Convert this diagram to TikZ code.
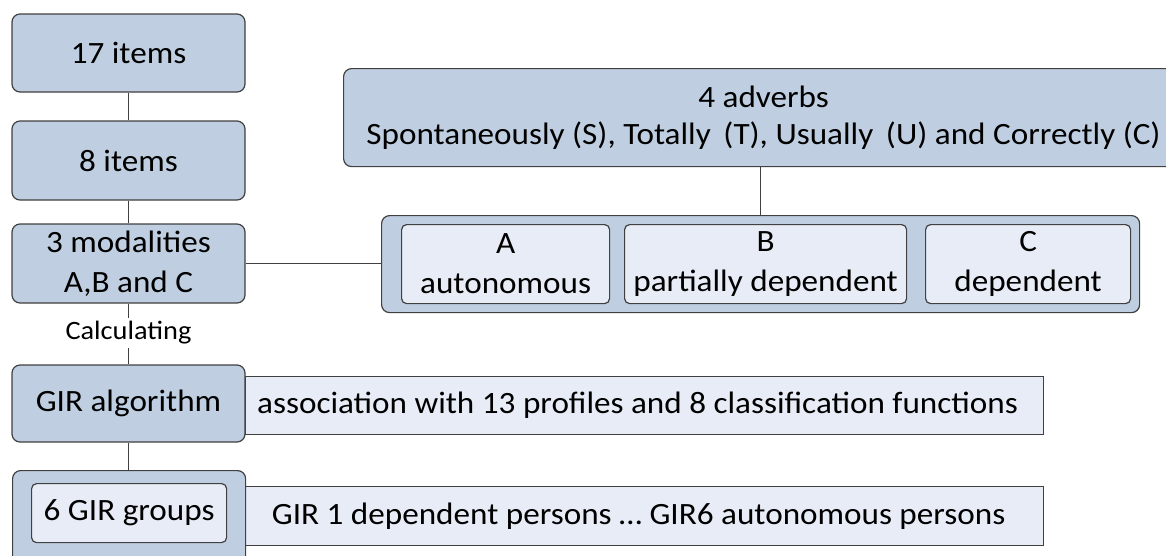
\documentclass[tikz,border=0pt]{standalone}
\usepackage{fontspec}
\setmainfont{Carlito}[FakeStretch=1.07]
\definecolor{darkfill}{HTML}{BFCFE1}
\definecolor{lightfill}{HTML}{E7ECF6}
\definecolor{edge}{HTML}{404040}
\tikzset{
  dbox/.style={draw=edge, fill=darkfill, line width=1.2pt, rounded corners=8pt, inner sep=0pt, align=center},
  lbox/.style={draw=edge, fill=lightfill, line width=1.2pt, rounded corners=5pt, inner sep=0pt, align=center},
  sbox/.style={draw=edge, fill=lightfill, line width=1.2pt, inner sep=0pt, align=center},
  conn/.style={draw=edge, line width=1pt},
  txt/.style={font=\fontsize{31}{40}\selectfont}
}
\begin{document}
\begin{tikzpicture}[x=1pt,y=-1pt]
\useasboundingbox (0,0) rectangle (1166,555);
\clip (0,0) rectangle (1166,555);
% left column
\node[dbox, txt, minimum width=233pt, minimum height=78pt] (n17) at (128.5,53) {17 items};
\node[dbox, txt, minimum width=233pt, minimum height=79pt] (n8) at (128.5,160.5) {8 items};
\node[dbox, txt, minimum width=233pt, minimum height=79pt] (mod) at (128.5,263.5) {3 modalities\\A,B and C};
\node[inner sep=3pt, font=\fontsize{26.5}{30}\selectfont] (calc) at (128.5,333) {Calculating};
% association
\node[sbox, txt, minimum width=798pt, minimum height=58pt, anchor=north west] (assoc) at (245,376) {\hspace*{-14pt}association with 13 profiles and 8 classification functions};
\node[dbox, txt, minimum width=233pt, minimum height=77pt] (gir) at (128.5,403.5) {GIR algorithm};
% GIR groups
\node[sbox, txt, minimum width=798pt, minimum height=59pt, anchor=north west] (gir1) at (245,486) {\hspace*{-12pt}GIR 1 dependent persons … GIR6 autonomous persons};
\node[dbox, minimum width=233pt, minimum height=110pt, anchor=north west] (grp) at (12,470) {};
\node[lbox, txt, minimum width=195pt, minimum height=59pt, anchor=north west] (grpin) at (31,483) {6 GIR groups};
% adverbs
\node[dbox, minimum width=840pt, minimum height=98pt, anchor=north west, font=\fontsize{31}{37}\selectfont] (adv) at (343,68) {4 adverbs\\Spontaneously (S), Totally \,(T), Usually \,(U) and Correctly (C)};
% group of modalities
\node[dbox, minimum width=758pt, minimum height=97pt, anchor=north west] (mg) at (381,215) {};
\node[lbox, txt, minimum width=208pt, minimum height=79pt, anchor=north west] (ma) at (401,224) {A\\autonomous};
\node[lbox, txt, minimum width=282pt, minimum height=79pt, anchor=north west] (mb) at (624,224) {B\\partially dependent};
\node[lbox, txt, minimum width=205pt, minimum height=79pt, anchor=north west] (mc) at (925,224) {C\\dependent};
% connectors
\draw[conn] (n17.south) -- (n8.north);
\draw[conn] (n8.south) -- (mod.north);
\draw[conn] (mod.south) -- (calc.north);
\draw[conn] (calc.south) -- (gir.north);
\draw[conn] (gir.south) -- (grp.north -| gir.south);
\draw[conn] (mod.east) -- (mod.east -| mg.west);
\draw[conn] (mg.north) -- (mg.north |- adv.south);
\end{tikzpicture}
\end{document}
